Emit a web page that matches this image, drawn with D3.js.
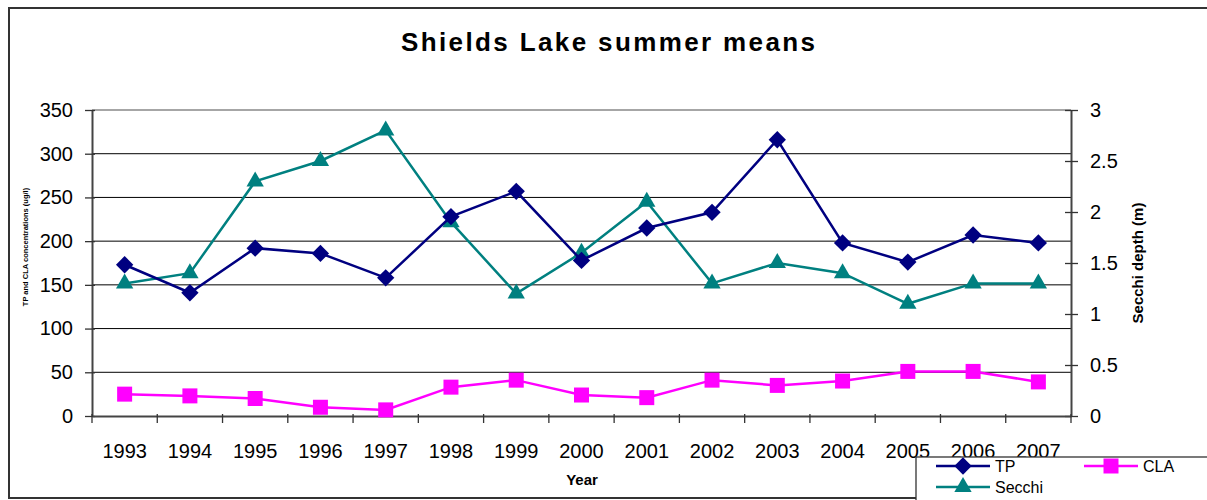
<!DOCTYPE html>
<html>
<head>
<meta charset="utf-8">
<script src="https://cdn.jsdelivr.net/npm/d3@7"></script>
<style>
  html, body { margin: 0; padding: 0; background: #fff; }
  svg { display: block; font-family: "Liberation Sans", Arial, sans-serif; }
</style>
</head>
<body>
<svg id="chart" width="1207" height="500"></svg>
<script>
const years = ["1993","1994","1995","1996","1997","1998","1999","2000","2001","2002","2003","2004","2005","2006","2007"];
const tpValues = [173, 141, 192, 186, 158, 228, 257, 178, 215, 233, 316, 198, 176, 207, 198];
const claValues = [25, 23, 20, 10, 7, 33, 41, 24, 21, 41, 35, 40, 51, 51, 39];
const secchiValues = [1.3, 1.4, 2.3, 2.5, 2.8, 1.9, 1.2, 1.6, 2.1, 1.3, 1.5, 1.4, 1.1, 1.3, 1.3];
const leftTicks = [0, 50, 100, 150, 200, 250, 300, 350];
const rightTicks = [0, 0.5, 1, 1.5, 2, 2.5, 3];

const svg = d3.select("#chart");
const L = 92, R = 1071, T = 110, B = 416;

// outer border
svg.append("rect").attr("x", 9).attr("y", 8).attr("width", 1220).attr("height", 490)
  .attr("fill", "none").attr("stroke", "#333").attr("stroke-width", 2);

const x = d3.scaleBand().domain(years).range([L, R]);
const yL = d3.scaleLinear().domain([0, 350]).range([B, T]);
const yR = d3.scaleLinear().domain([0, 3]).range([B, T]);

// gridlines
svg.append("g").selectAll("line").data(leftTicks.filter(d => d > 0 && d < 350)).join("line")
  .attr("x1", L).attr("x2", R).attr("y1", d => yL(d)).attr("y2", d => yL(d))
  .attr("stroke", "#000").attr("stroke-width", 1);
// top plot border
svg.append("line").attr("x1", L).attr("x2", R).attr("y1", T).attr("y2", T)
  .attr("stroke", "#888").attr("stroke-width", 1.5);

// left axis
const gL = svg.append("g").attr("transform", `translate(${L},0)`)
  .call(d3.axisLeft(yL).tickValues(leftTicks).tickSize(7).tickPadding(12).tickSizeOuter(0));
gL.selectAll(".tick line").attr("x2", -7).attr("x1", 3).attr("stroke", "#333").attr("stroke-width", 1.3);
gL.select(".domain").attr("stroke", "#444").attr("stroke-width", 2);
gL.selectAll("text").attr("font-size", 20).attr("fill", "#000").attr("font-family", "Liberation Sans, Arial, sans-serif");

// right axis
const gR = svg.append("g").attr("transform", `translate(${R},0)`)
  .call(d3.axisRight(yR).tickValues(rightTicks).tickFormat(d => String(d)).tickSize(7).tickPadding(12).tickSizeOuter(0));
gR.selectAll(".tick line").attr("x1", -6).attr("x2", 7).attr("stroke", "#333").attr("stroke-width", 1.3);
gR.select(".domain").attr("stroke", "#444").attr("stroke-width", 2);
gR.selectAll("text").attr("font-size", 20).attr("fill", "#000").attr("font-family", "Liberation Sans, Arial, sans-serif");

// bottom axis
const gB = svg.append("g").attr("transform", `translate(0,${B})`)
  .call(d3.axisBottom(x).tickSize(0).tickPadding(28));
gB.select(".domain").attr("stroke", "#444").attr("stroke-width", 2);
gB.selectAll("text").attr("font-size", 20).attr("fill", "#000").attr("font-family", "Liberation Sans, Arial, sans-serif");
svg.append("g").selectAll("line").data(years.concat(["end"])).join("line")
  .attr("x1", d => d === "end" ? R : x(d)).attr("x2", d => d === "end" ? R : x(d))
  .attr("y1", B - 2).attr("y2", B + 7).attr("stroke", "#333").attr("stroke-width", 1.3);

// titles
svg.append("text").attr("x", 608).attr("y", 51).attr("text-anchor", "middle")
  .attr("font-size", 26).attr("font-weight", "bold").attr("textLength", 414).attr("lengthAdjust", "spacing")
  .text("Shields Lake summer means");
svg.append("text").attr("x", 582).attr("y", 485).attr("text-anchor", "middle")
  .attr("font-size", 15).attr("font-weight", "bold").text("Year");
svg.append("text").attr("transform", "translate(28,247) rotate(-90)").attr("text-anchor", "middle")
  .attr("font-size", 7.5).attr("font-weight", "bold").text("TP and CLA concentrations (ug/l)");
svg.append("text").attr("transform", "translate(1143,263) rotate(-90)").attr("text-anchor", "middle")
  .attr("font-size", 15).attr("font-weight", "bold").text("Secchi depth (m)");

const cx = d => x(d) + x.bandwidth() / 2;
const diamond = d3.symbol().type(d3.symbolSquare).size(150);
const square = d3.symbol().type(d3.symbolSquare).size(225);
const triangle = d3.symbol().type(d3.symbolTriangle).size(130);

function series(vals, yScale, color, sym, rot) {
  const pts = years.map((yr, i) => [cx(yr), yScale(vals[i])]);
  svg.append("path").attr("d", d3.line()(pts)).attr("fill", "none")
    .attr("stroke", color).attr("stroke-width", 2.5);
  svg.append("g").selectAll("path").data(pts).join("path")
    .attr("d", sym())
    .attr("transform", d => `translate(${d[0]},${d[1]}) rotate(${rot})`)
    .attr("fill", color);
}
series(secchiValues, yR, "#008080", triangle, 0);
series(tpValues, yL, "#000080", diamond, 45);
series(claValues, yL, "#FF00FF", square, 0);

// legend
const lg = svg.append("g");
lg.append("rect").attr("x", 916).attr("y", 457).attr("width", 320).attr("height", 60)
  .attr("fill", "#fff").attr("stroke", "#333").attr("stroke-width", 1.3);
const legendItems = [
  {name: "TP", color: "#000080", sym: diamond, rot: 45, lx: 936, ly: 466},
  {name: "CLA", color: "#FF00FF", sym: square, rot: 0, lx: 1084, ly: 466},
  {name: "Secchi", color: "#008080", sym: triangle, rot: 0, lx: 936, ly: 487}
];
legendItems.forEach(it => {
  lg.append("line").attr("x1", it.lx).attr("x2", it.lx + 54).attr("y1", it.ly).attr("y2", it.ly)
    .attr("stroke", it.color).attr("stroke-width", 2.5);
  lg.append("path").attr("d", it.sym()).attr("transform", `translate(${it.lx + 27},${it.ly}) rotate(${it.rot})`)
    .attr("fill", it.color);
  lg.append("text").attr("x", it.lx + 59).attr("y", it.ly + 6).attr("font-size", 16).text(it.name);
});
</script>
</body>
</html>
